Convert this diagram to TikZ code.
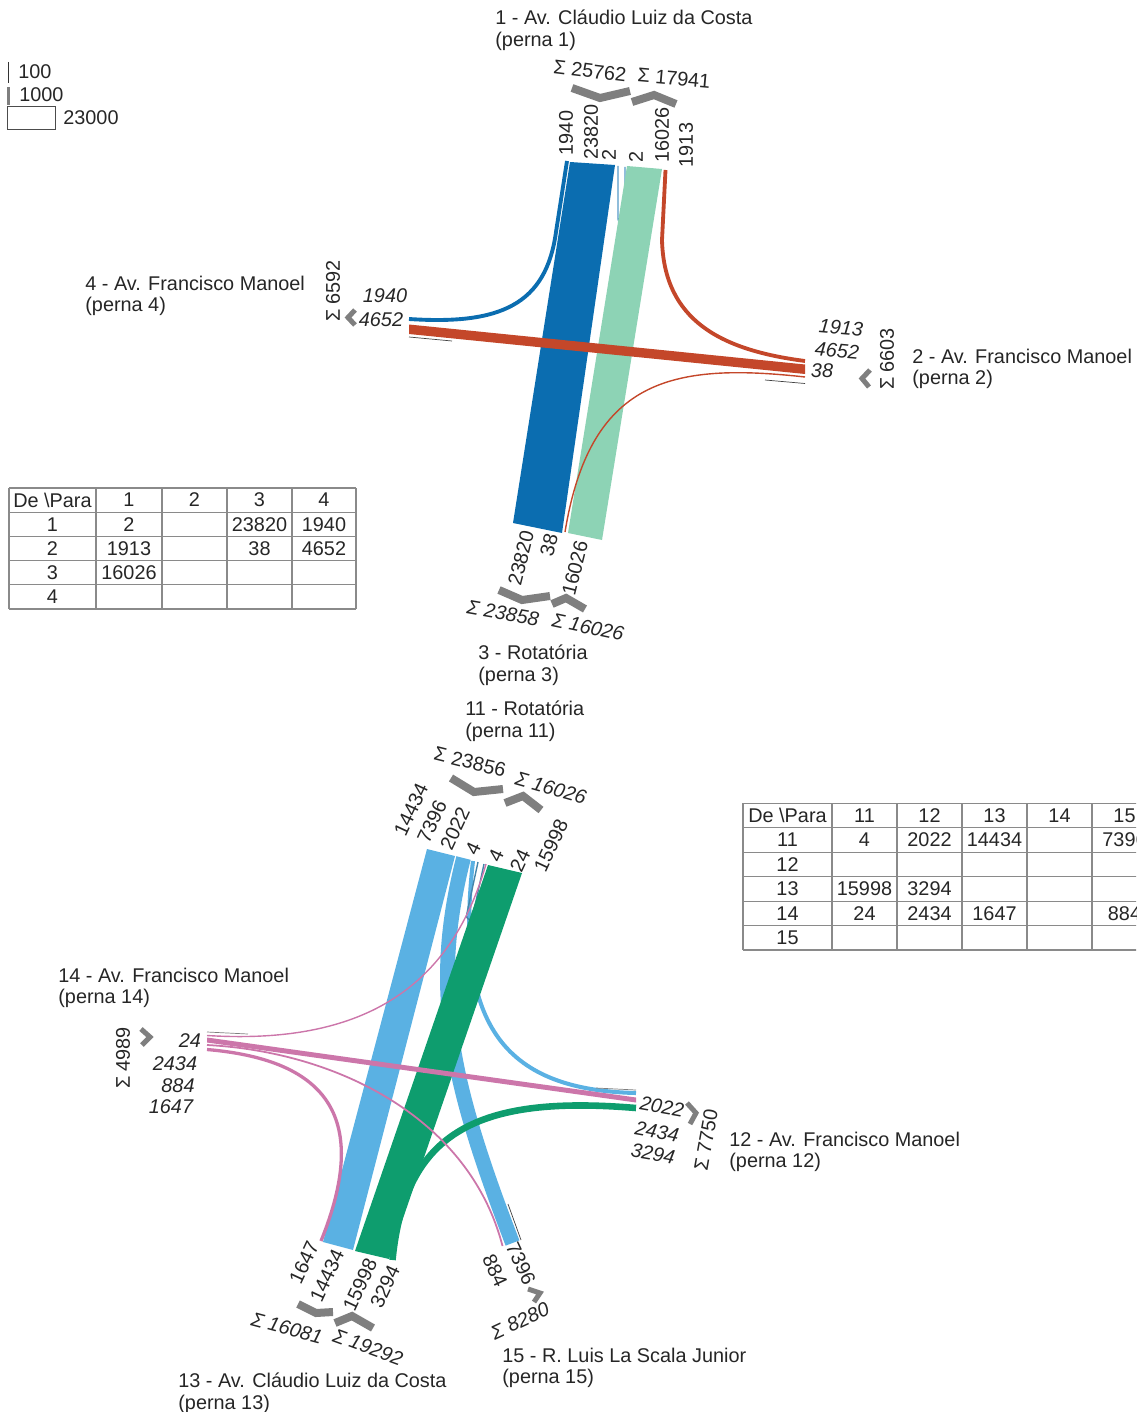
\documentclass[tikz,border=0pt]{standalone}
\usepackage{fontspec}
\setmainfont{Liberation Sans}

\definecolor{dkblue}{HTML}{0B6DB0}
\definecolor{ltgreen}{HTML}{8DD3B5}
\definecolor{rust}{HTML}{C4472A}
\definecolor{skyblue}{HTML}{5AB1E3}
\definecolor{dkgreen}{HTML}{0E9D6E}
\definecolor{mauve}{HTML}{CC76AA}
\definecolor{sumgray}{HTML}{7F7F7F}
\definecolor{tabgray}{HTML}{8A8A8A}

\begin{document}
\begin{tikzpicture}[x = 0.02cm, y = -0.02cm,
        flow/.style = {line width = {max(#1/500,1.4)*0.569pt}},
        lbl/.style = {inner sep = 0pt, text = black!85, font = \fontsize{11.3}{12}\selectfont},
        ilbl/.style = {lbl, font = \fontsize{11.3}{12}\selectfont\itshape},
        title/.style = {lbl, anchor = north west, align = left},
        sumbar/.style = {draw = sumgray, line width = #1*0.569pt},
        stub/.style = {draw = black!75, line width = 0.4pt},
        tab/.style = {draw = tabgray, line width = 0.6pt}]
    \useasboundingbox (0,0) rectangle (1136,1412);
    \clip (0,0) rectangle (1136,1412);

    % legend
    \draw[black!80, line width = 0.4pt] (8.5,62) -- (8.5,83);
    \draw[sumgray, line width = 2.5*0.569pt] (8.5,87) -- (8.5,105);
    \draw[black!70, line width = 0.5pt] (7,106) rectangle (55,129);
    \node[lbl, anchor = west] (lg100) at (18,72) {100};
    \node[lbl, anchor = west] (lg1000) at (19,95) {1000};
    \node[lbl, anchor = west] (lg23000) at (63,118) {23000};

    % upper junction, legs 1 - 4
    \fill[dkblue] (570,162) -- (615,165) -- (562,533) -- (513,523) -- cycle;
    \draw[dkblue, flow = 1940] (567,161) -- (556,232) .. controls (546,305) and (500,325) .. (409,319);
    \draw[dkblue!70, line width = 0.8pt] (618,166) -- (618,218) .. controls (618,225) and (625,225) .. (625,218) -- (625,167);
    \fill[ltgreen] (627,166) -- (662,169) -- (602,540) -- (568,533) -- cycle;
    \draw[rust, flow = 1913] (665.5,170) -- (662,240) .. controls (664,320) and (720,350) .. (805,361);
    \fill[rust] (409,324.5) -- (805,364.5) -- (805,374) -- (409,334) -- cycle;
    \draw[rust, flow = 38] (805,377) .. controls (670,362) and (590,380) .. (565,532);
    \draw[stub] (409,337) -- (452,341);
    \draw[stub] (765,380) -- (805,383.5);

    % leg 1
    \node[title] (t1) at (495,10) {1 - Av. Cláudio Luiz da Costa\\(perna 1)};
    \node[lbl, rotate = -7] (nsum1) at (590,71) {Σ 25762};
    \node[lbl, rotate = -5] (nsum2) at (674,78) {Σ 17941};
    \draw[sumbar = 8] (572,88) -- (600,98) -- (630,91);
    \draw[sumbar = 8] (632,102) -- (654,95) -- (676,104);
    \node[lbl, rotate = 90] (n1940) at (566,133) {1940};
    \node[lbl, rotate = 90] (n23820) at (591,132) {23820};
    \node[lbl, rotate = 90] (n2a) at (609,155) {2};
    \node[lbl, rotate = 90] (n2b) at (636,157) {2};
    \node[lbl, rotate = 90] (n16026) at (662,135) {16026};
    \node[lbl, rotate = 90] (n1913) at (686,145) {1913};

    % leg 4
    \node[title] (t4) at (85,276) {4 - Av. Francisco Manoel\\(perna 4)};
    \node[lbl, rotate = 90] (wsum) at (333,291) {Σ 6592};
    \draw[sumbar = 5] (355,310) -- (348,317.5) -- (355,325);
    \node[ilbl] (w1940) at (385,296) {1940};
    \node[ilbl] (w4652) at (381,320) {4652};

    % leg 2
    \node[ilbl, rotate = -5] (e1913) at (841,328) {1913};
    \node[ilbl, rotate = -5] (e4652) at (837,351) {4652};
    \node[ilbl] (e38) at (822,371) {38};
    \draw[sumbar = 5] (870,370) -- (862,378.5) -- (869,387);
    \node[lbl, rotate = 90] (esum) at (887,359) {Σ 6603};
    \node[title] (t2) at (912,349) {2 - Av. Francisco Manoel\\(perna 2)};

    % leg 3
    \node[lbl, rotate = 76] (s23820) at (521,558) {23820};
    \node[lbl, rotate = 76] (s38) at (549,545) {38};
    \node[lbl, rotate = 76] (s16026) at (575,568) {16026};
    \draw[sumbar = 8] (499,590) -- (522,600) -- (550,596);
    \draw[sumbar = 8] (552,604) -- (566,598) -- (585,609);
    \node[ilbl, rotate = -10] (ssum1) at (503,613) {Σ 23858};
    \node[ilbl, rotate = -12] (ssum2) at (588,627) {Σ 16026};
    \node[title] (t3) at (478,645) {3 - Rotatória\\(perna 3)};

    % table upper junction
    \foreach \y in {488, 512.2, 536.4, 560.6, 584.8, 609}
        \draw[tab] (9,\y) -- (356,\y);
    \foreach \x in {9, 96, 162, 227, 292, 356}
        \draw[tab] (\x,488) -- (\x,609);
    \foreach \x/\t [count = \c] in {52.5/De \textbackslash Para, 129/1, 194.5/2, 259.5/3, 324/4}
        \node[lbl] (ua-0-\c) at (\x,500) {\t};
    \foreach \x/\t [count = \c] in {52.5/1, 129/2, 259.5/23820, 324/1940}
        \node[lbl] (ua-1-\c) at (\x,524.3) {\t};
    \foreach \x/\t [count = \c] in {52.5/2, 129/1913, 259.5/38, 324/4652}
        \node[lbl] (ua-2-\c) at (\x,548.5) {\t};
    \foreach \x/\t [count = \c] in {52.5/3, 129/16026}
        \node[lbl] (ua-3-\c) at (\x,572.7) {\t};
    \node[lbl] (ua-4-1) at (52.5,596.9) {4};

    % lower junction, legs 11 - 15
    \fill[skyblue] (427,849) -- (455,856) -- (353,1250) -- (323,1242) -- cycle;
    \draw[skyblue, flow = 7396] (463.5,858) .. controls (430,990) and (450,1080) .. (512.5,1243);
    \draw[skyblue, flow = 2022] (473,861) .. controls (455,1020) and (500,1090) .. (636,1093);
    \draw[skyblue!75!black, line width = 0.8pt] (478,862) -- (467,913) .. controls (465,921) and (472,922) .. (473,915) -- (484,864);
    \fill[dkgreen] (488,865) -- (522,873) -- (389,1259) -- (355,1251) -- cycle;
    \draw[dkgreen, flow = 3294] (392.5,1260) .. controls (405,1130) and (480,1095) .. (636,1108);
    \draw[mauve, flow = 24] (207,1035.5) .. controls (360,1045) and (450,990) .. (486,864);
    \fill[mauve] (207,1037.5) -- (636,1097.5) -- (636,1102.5) -- (207,1042.5) -- cycle;
    \draw[mauve, flow = 884] (207,1045) .. controls (340,1052) and (470,1120) .. (502.5,1246);
    \draw[mauve, flow = 1647] (207,1049.5) .. controls (330,1060) and (370,1120) .. (321,1241);
    \draw[stub, sumgray] (207,1032) -- (248,1034);
    \draw[stub, sumgray] (596,1088) -- (636,1090);
    \draw[stub] (508,1204) -- (521,1240);

    % leg 11
    \node[title] (t11) at (465,701) {11 - Rotatória\\(perna 11)};
    \node[lbl, rotate = -14] (msum1) at (470,762) {Σ 23856};
    \node[ilbl, rotate = -16] (msum2) at (551,788) {Σ 16026};
    \draw[sumbar = 8] (451,778) -- (474,792) -- (503,789);
    \draw[sumbar = 8] (505,803) -- (523,796) -- (541,810);
    \node[lbl, rotate = 65] (m14434) at (411,810) {14434};
    \node[lbl, rotate = 65] (m7396) at (432,822) {7396};
    \node[lbl, rotate = 65] (m2022) at (455,829) {2022};
    \node[lbl, rotate = 65] (m4a) at (473,849) {4};
    \node[lbl, rotate = 65] (m4b) at (496,856) {4};
    \node[lbl, rotate = 65] (m24) at (520,861) {24};
    \node[lbl, rotate = 65] (m15998) at (551,846) {15998};

    % leg 14
    \node[title] (t14) at (58,968) {14 - Av. Francisco Manoel\\(perna 14)};
    \node[lbl, rotate = 90] (psum) at (123,1058) {Σ 4989};
    \draw[sumbar = 5] (141,1029) -- (150,1037) -- (142,1045);
    \node[ilbl] (p24) at (190,1041) {24};
    \node[ilbl] (p2434) at (175,1064) {2434};
    \node[ilbl] (p884) at (178,1086) {884};
    \node[ilbl] (p1647) at (171,1107) {1647};

    % leg 12
    \node[ilbl, rotate = -10] (q2022) at (662,1107) {2022};
    \node[ilbl, rotate = -10] (q2434) at (657,1132) {2434};
    \node[ilbl, rotate = -10] (q3294) at (653,1154) {3294};
    \draw[sumbar = 5] (687,1103) -- (696,1113) -- (690,1124);
    \node[lbl, rotate = 80] (qsum) at (706,1140) {Σ 7750};
    \node[title] (t12) at (729,1132) {12 - Av. Francisco Manoel\\(perna 12)};

    % leg 13
    \node[lbl, rotate = 65] (r1647) at (304,1263) {1647};
    \node[lbl, rotate = 65] (r14434) at (327,1276) {14434};
    \node[lbl, rotate = 65] (r15998) at (360,1285) {15998};
    \node[lbl, rotate = 65] (r3294) at (385,1287) {3294};
    \draw[sumbar = 8] (298,1304) -- (316,1313) -- (333,1312);
    \draw[sumbar = 8] (335,1323) -- (352,1316) -- (373,1328);
    \node[ilbl, rotate = -15] (rsum1) at (287,1328) {Σ 16081};
    \node[ilbl, rotate = -20] (rsum2) at (368,1347) {Σ 19292};
    \node[title] (t13) at (178,1373) {13 - Av. Cláudio Luiz da Costa\\(perna 13)};

    % leg 15
    \node[lbl, rotate = -65] (v884) at (495,1271) {884};
    \node[lbl, rotate = -65] (v7396) at (521,1264) {7396};
    \draw[sumbar = 5] (528,1289) -- (540,1293) -- (534,1302);
    \node[ilbl, rotate = 25] (vsum) at (520,1321) {Σ 8280};
    \node[title] (t15) at (502,1348) {15 - R. Luis La Scala Junior\\(perna 15)};

    % table lower junction
    \foreach \y in {803.3, 827.8, 852.2, 876.7, 901.1, 925.6, 950}
        \draw[tab] (743,\y) -- (1157,\y);
    \foreach \x in {743, 832, 897, 962, 1027, 1092}
        \draw[tab] (\x,803.3) -- (\x,950);
    \foreach \x/\t [count = \c] in {787.5/De \textbackslash Para, 864.5/11, 929.5/12, 994.5/13, 1059.5/14, 1124.5/15}
        \node[lbl] (ub-0-\c) at (\x,815.5) {\t};
    \foreach \x/\t [count = \c] in {787.5/11, 864.5/4, 929.5/2022, 994.5/14434, 1124.5/7396}
        \node[lbl] (ub-1-\c) at (\x,840) {\t};
    \node[lbl] (ub-2-1) at (787.5,864.5) {12};
    \foreach \x/\t [count = \c] in {787.5/13, 864.5/15998, 929.5/3294}
        \node[lbl] (ub-3-\c) at (\x,888.9) {\t};
    \foreach \x/\t [count = \c] in {787.5/14, 864.5/24, 929.5/2434, 994.5/1647, 1124.5/884}
        \node[lbl] (ub-4-\c) at (\x,913.3) {\t};
    \node[lbl] (ub-5-1) at (787.5,937.8) {15};
\end{tikzpicture}
\end{document}
